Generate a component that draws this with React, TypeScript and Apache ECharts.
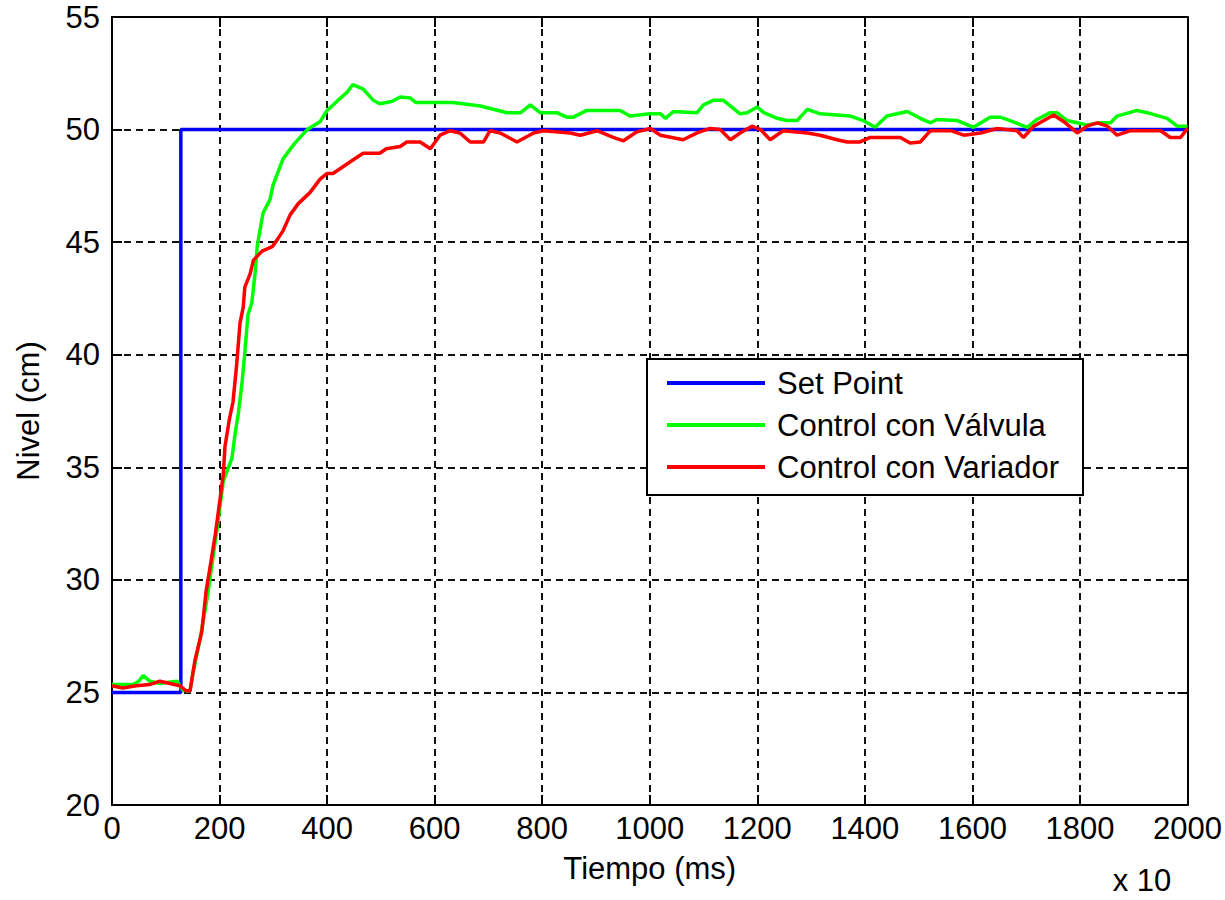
import React, { useEffect, useRef } from "react";
import * as echarts from "echarts";

// ---- Data ----
const seriesNames = ["Set Point", "Control con Válvula", "Control con Variador"];
const seriesColors = ["#0000ff", "#00ff00", "#ff0000"];

const xTicks = [0, 200, 400, 600, 800, 1000, 1200, 1400, 1600, 1800, 2000];
const yTicks = [20, 25, 30, 35, 40, 45, 50, 55];

const setPoint: number[][] = [
  [0, 25], [128, 25], [128, 50], [2000, 50],
];

const valvula: number[][] = [
  [0, 25.35], [20, 25.35], [39, 25.35], [50, 25.5], [58, 25.75], [70, 25.5], [89, 25.4],
  [105, 25.45], [121, 25.5], [132, 25.1], [145, 25.05], [151, 25.9], [164, 27.4], [177, 29.2],
  [186, 30.7], [195, 32.2], [207, 34.4], [223, 35.4], [229, 36.5], [235, 37.4], [242, 38.8],
  [247, 40.1], [253, 41.8], [260, 42.3], [266, 43.6], [270, 44.8], [275, 45.5], [281, 46.3],
  [294, 46.9], [299, 47.5], [318, 48.7], [340, 49.4], [363, 50.0], [387, 50.35], [400, 50.85],
  [418, 51.25], [437, 51.65], [448, 52.0], [467, 51.8], [486, 51.3], [498, 51.15], [520, 51.25],
  [536, 51.45], [555, 51.4], [565, 51.2], [600, 51.2], [634, 51.2], [685, 51.05], [735, 50.75],
  [760, 50.75], [778, 51.1], [796, 50.75], [827, 50.75], [846, 50.55], [858, 50.55], [883, 50.85],
  [908, 50.85], [945, 50.85], [963, 50.6], [1000, 50.7], [1020, 50.7], [1029, 50.5], [1044, 50.8],
  [1088, 50.75], [1100, 51.1], [1118, 51.3], [1137, 51.3], [1168, 50.7], [1181, 50.75], [1200, 51.0],
  [1212, 50.75], [1237, 50.5], [1255, 50.4], [1274, 50.4], [1293, 50.9], [1317, 50.7], [1373, 50.6],
  [1397, 50.4], [1419, 50.1], [1441, 50.6], [1479, 50.8], [1503, 50.5], [1522, 50.3], [1534, 50.45],
  [1572, 50.4], [1602, 50.1], [1633, 50.55], [1652, 50.55], [1670, 50.4], [1702, 50.1], [1720, 50.45],
  [1745, 50.75], [1757, 50.75], [1776, 50.4], [1813, 50.2], [1838, 50.3], [1857, 50.3], [1869, 50.6],
  [1906, 50.85], [1925, 50.75], [1962, 50.5], [1981, 50.15], [2000, 50.15],
];

const variador: number[][] = [
  [0, 25.3], [20, 25.2], [45, 25.3], [70, 25.35], [89, 25.5], [108, 25.4], [126, 25.3],
  [136, 25.1], [145, 25.05], [154, 26.4], [167, 27.7], [175, 29.5], [184, 30.8], [192, 32.0],
  [201, 33.6], [207, 34.7], [210, 35.9], [218, 37.1], [225, 37.9], [232, 39.6], [238, 41.4],
  [244, 42.1], [247, 43.0], [257, 43.6], [263, 44.2], [279, 44.6], [298, 44.8], [307, 45.1],
  [318, 45.5], [331, 46.2], [346, 46.7], [368, 47.2], [387, 47.8], [400, 48.05], [411, 48.05],
  [448, 48.65], [467, 48.95], [498, 48.95], [510, 49.15], [536, 49.25], [548, 49.45], [573, 49.45],
  [592, 49.15], [610, 49.75], [629, 49.95], [647, 49.85], [666, 49.45], [691, 49.45], [703, 49.95],
  [722, 49.85], [753, 49.45], [784, 49.85], [802, 49.95], [852, 49.85], [871, 49.75], [902, 49.95],
  [932, 49.65], [951, 49.5], [976, 49.9], [1001, 50.05], [1020, 49.75], [1062, 49.55], [1088, 49.85],
  [1112, 50.05], [1131, 50.0], [1150, 49.55], [1168, 49.85], [1190, 50.15], [1206, 50.0], [1224, 49.55],
  [1248, 49.95], [1293, 49.85], [1317, 49.75], [1348, 49.55], [1367, 49.45], [1391, 49.45], [1410, 49.65],
  [1466, 49.65], [1484, 49.4], [1503, 49.45], [1522, 49.95], [1560, 49.95], [1584, 49.75], [1615, 49.85],
  [1646, 50.05], [1683, 49.95], [1695, 49.65], [1714, 50.15], [1751, 50.65], [1770, 50.35], [1795, 49.85],
  [1813, 50.15], [1832, 50.3], [1851, 50.15], [1869, 49.75], [1894, 49.95], [1950, 49.95], [1968, 49.65],
  [1987, 49.65], [2000, 50.05],
];

const xAxisTitle = "Tiempo (ms)";
const yAxisTitle = "Nivel (cm)";
const xScaleNote = "x 10";

export default function App() {
  const ref = useRef<HTMLDivElement>(null);

  useEffect(() => {
    if (!ref.current) return;
    const chart = echarts.init(ref.current, null, { renderer: "svg" });
    const font = "'Liberation Sans', Arial, Helvetica, sans-serif";
    const fs = 31;
    const xMin = xTicks[0];
    const xMax = xTicks[xTicks.length - 1];
    const xInt = xTicks[1] - xTicks[0];
    const yMin = yTicks[0];
    const yMax = yTicks[yTicks.length - 1];
    const yInt = yTicks[1] - yTicks[0];

    const axisLine = { show: true, onZero: false, lineStyle: { color: "#000", width: 2 } };
    const axisTick = { show: true, inside: true, length: 10, lineStyle: { color: "#000", width: 2 } };
    const splitLine = { show: true, lineStyle: { color: "#111", width: 2, type: [7, 5] } };

    const datasets = [setPoint, valvula, variador];

    chart.setOption({
      animation: false,
      backgroundColor: "#ffffff",
      grid: { left: 112, right: 37, top: 17, bottom: 95, containLabel: false },
      xAxis: [
        {
          type: "value",
          position: "bottom",
          min: xMin,
          max: xMax,
          interval: xInt,
          axisLine,
          axisTick,
          splitLine,
          axisLabel: {
            color: "#000",
            fontSize: fs,
            fontFamily: font,
            margin: 8,
            formatter: (v: number) => String(v),
          },
          name: xAxisTitle,
          nameLocation: "middle",
          nameGap: 48,
          nameTextStyle: { color: "#000", fontSize: fs, fontFamily: font },
        },
        {
          type: "value",
          position: "top",
          min: xMin,
          max: xMax,
          interval: xInt,
          axisLine,
          axisTick,
          splitLine: { show: false },
          axisLabel: { show: false },
        },
      ],
      yAxis: [
        {
          type: "value",
          position: "left",
          min: yMin,
          max: yMax,
          interval: yInt,
          axisLine,
          axisTick,
          splitLine,
          axisLabel: {
            color: "#000",
            fontSize: fs,
            fontFamily: font,
            margin: 12,
            formatter: (v: number) => String(v),
          },
        },
        {
          type: "value",
          position: "right",
          min: yMin,
          max: yMax,
          interval: yInt,
          axisLine,
          axisTick,
          splitLine: { show: false },
          axisLabel: { show: false },
        },
      ],
      legend: {
        orient: "vertical",
        left: 647,
        top: 359,
        data: seriesNames,
        icon: "rect",
        itemWidth: 98,
        itemHeight: 4,
        itemGap: 8,
        padding: [7, 24, 11, 20],
        borderColor: "#000",
        borderWidth: 2,
        backgroundColor: "#fff",
        textStyle: { color: "#000", fontSize: fs, fontFamily: font, lineHeight: 34, padding: [0, 0, 0, 7] },
      },
      graphic: [
        {
          type: "text",
          x: 28,
          y: 411,
          rotation: Math.PI / 2,
          style: {
            text: yAxisTitle,
            fontSize: fs,
            fontFamily: font,
            fill: "#000",
            textAlign: "center",
            textVerticalAlign: "middle",
          },
        },
        {
          type: "text",
          x: 1142,
          y: 880,
          style: {
            text: xScaleNote,
            fontSize: fs,
            lineHeight: 31,
            fontFamily: font,
            fill: "#000",
            textAlign: "center",
            textVerticalAlign: "middle",
          },
        },
      ],
      series: seriesNames.map((name, i) => ({
        name,
        type: "line",
        xAxisIndex: 0,
        yAxisIndex: 0,
        data: datasets[i],
        showSymbol: false,
        symbol: "none",
        lineStyle: { color: seriesColors[i], width: 3.5 },
        itemStyle: { color: seriesColors[i] },
        z: 3 + i,
      })),
    });

    return () => chart.dispose();
  }, []);

  return (
    <div
      ref={ref}
      style={{ position: "fixed", left: 0, top: 0, width: 1225, height: 900, background: "#fff" }}
    />
  );
}
